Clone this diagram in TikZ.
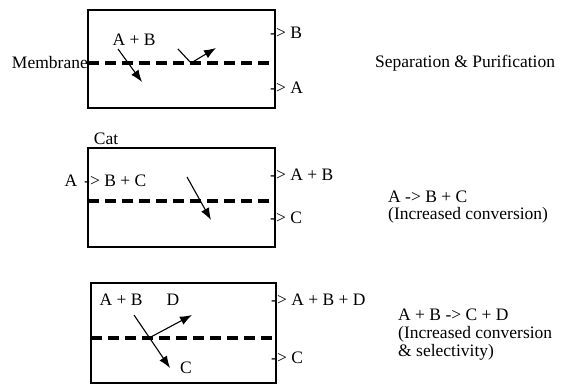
\documentclass[tikz,border=0pt]{standalone}
\usepackage{fontspec}
\setmainfont{Liberation Serif}
\usetikzlibrary{arrows.meta}
\begin{document}
\begin{tikzpicture}[x=1pt,y=-1pt,
 lbl/.style={font=\fontsize{17.5}{20}\selectfont, inner sep=0pt},
 boxline/.style={line width=1.6pt},
 membr/.style={line width=3.4pt, dash pattern=on 11pt off 6pt},
 flow/.style={line width=1.1pt, -{Latex[length=12pt,width=9pt]}}]
\useasboundingbox (0,0) rectangle (561,385);
% ---- box 1
\coordinate (b1nw) at (88,10); \coordinate (b1se) at (275,108);
\draw[boxline] (b1nw) rectangle (b1se);
\coordinate (m1w) at (88,63); \coordinate (m1e) at (275,63);
\draw[membr] (m1w) -- (m1e);
\node[lbl, anchor=east] (membrane) at (88,63) {Membrane};
\node[lbl] (ab1) at (134,40) {A + B};
\coordinate (a1s) at (118,49); \coordinate (a1e) at (142,82);
\draw[flow] (a1s) -- (a1e);
\coordinate (v1s) at (178,49); \coordinate (v1m) at (191,63); \coordinate (v1e) at (216,48);
\draw[flow] (v1s) -- (v1m) -- (v1e);
\node[lbl, anchor=west] (o1b) at (270,33) {-> B};
\node[lbl, anchor=west] (o1a) at (270,88) {-> A};
\node[lbl, anchor=west] (sep) at (375,63) {Separation \& Purification};
% ---- box 2
\coordinate (b2nw) at (88,148); \coordinate (b2se) at (275,247);
\draw[boxline] (b2nw) rectangle (b2se);
\coordinate (m2w) at (88,201); \coordinate (m2e) at (275,201);
\draw[membr] (m2w) -- (m2e);
\node[lbl] (cat) at (106,139) {Cat};
\node[lbl] (a2) at (71,181) {A};
\node[lbl, anchor=west] (in2) at (84,181) {-> B + C};
\coordinate (a2s) at (187,177); \coordinate (a2e) at (211,220);
\draw[flow] (a2s) -- (a2e);
\node[lbl, anchor=west] (o2ab) at (270,175) {-> A + B};
\node[lbl, anchor=west] (o2c) at (270,218) {-> C};
\node[lbl, anchor=west] (r2) at (388,197) {A -> B + C};
\node[lbl, anchor=west] (r2b) at (388,215) {(Increased conversion)};
% ---- box 3
\coordinate (b3nw) at (91,283); \coordinate (b3se) at (276,383);
\draw[boxline] (b3nw) rectangle (b3se);
\coordinate (m3w) at (91,338); \coordinate (m3e) at (276,338);
\draw[membr] (m3w) -- (m3e);
\node[lbl] (ab3) at (121,300) {A + B};
\node[lbl] (d3) at (173,300) {D};
\node[lbl, anchor=west] (c3) at (180,368) {C};
\coordinate (a3s) at (134,315); \coordinate (a3m) at (149,338); \coordinate (a3e) at (170,368);
\draw[flow] (a3s) -- (a3e);
\coordinate (d3e) at (192,315);
\draw[flow] (a3m) -- (d3e);
\node[lbl, anchor=west] (o3abd) at (271,300) {-> A + B + D};
\node[lbl, anchor=west] (o3c) at (271,358) {-> C};
\node[lbl, anchor=west] (r3) at (398,315) {A + B -> C + D};
\node[lbl, anchor=west] (r3b) at (398,334) {(Increased conversion};
\node[lbl, anchor=west] (r3c) at (398,352) {\& selectivity)};
\end{tikzpicture}
\end{document}
